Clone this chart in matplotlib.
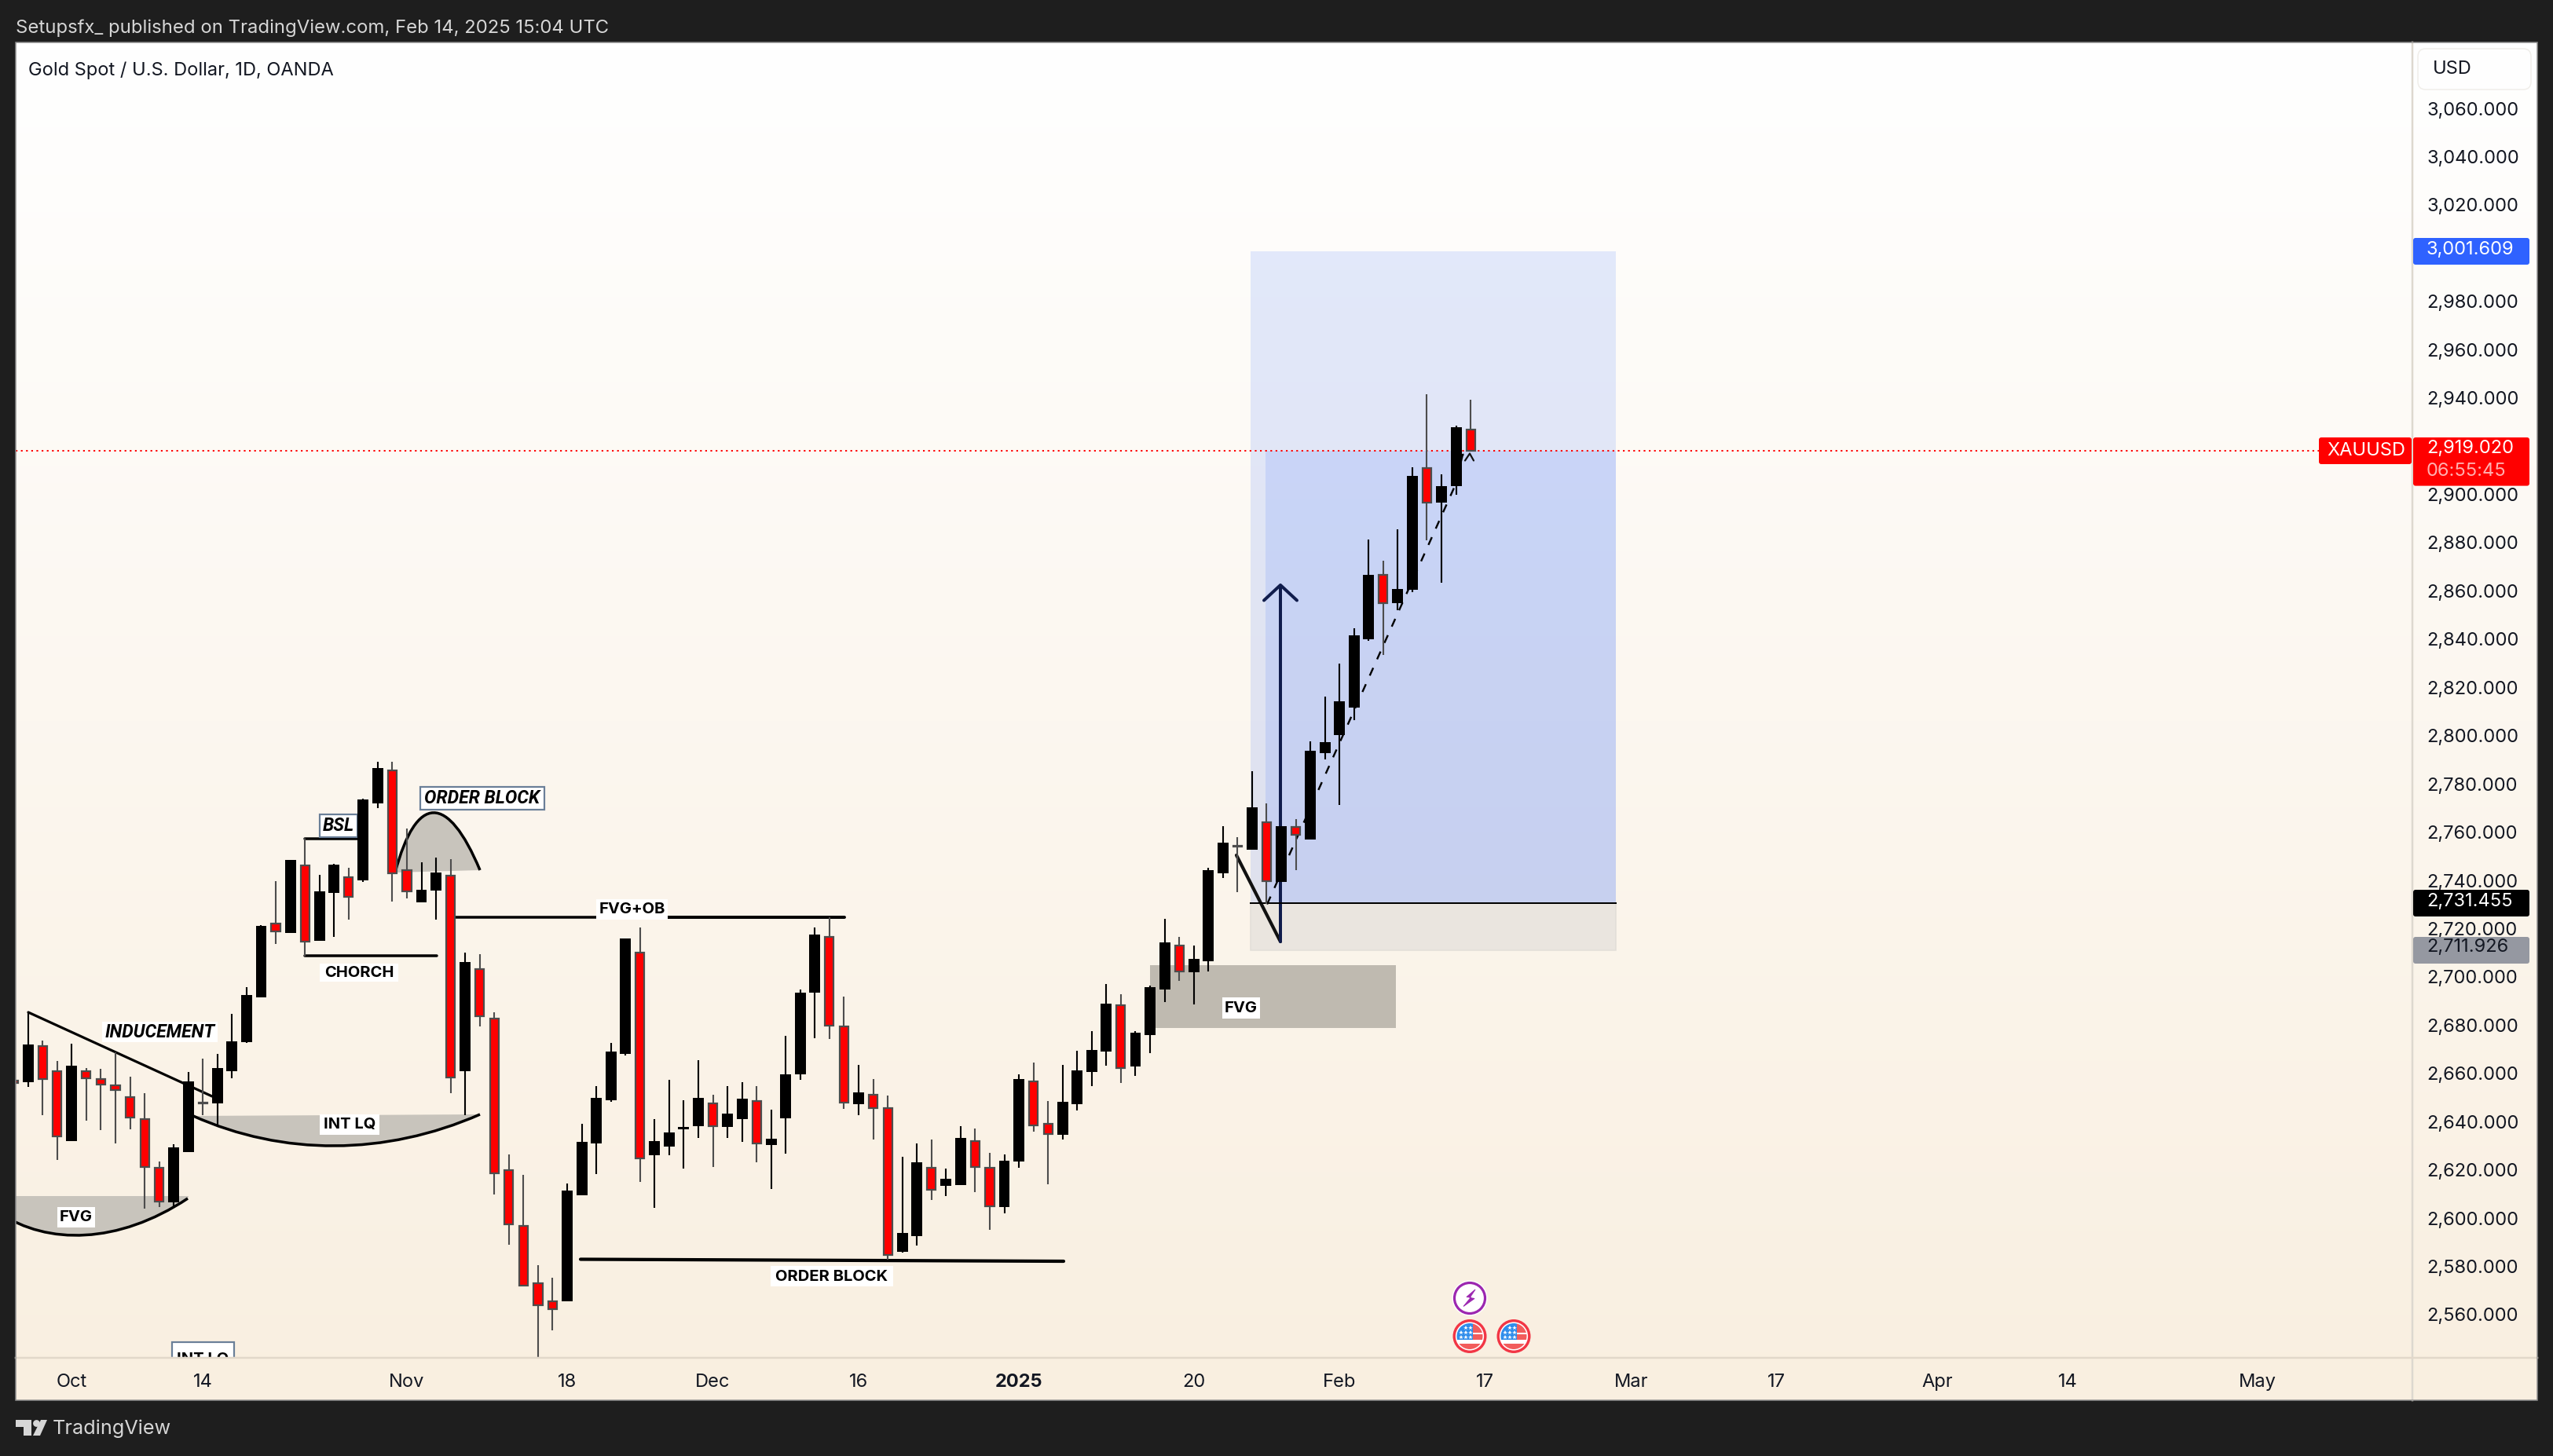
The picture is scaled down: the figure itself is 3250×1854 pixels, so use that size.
import numpy as np
import matplotlib
matplotlib.use("Agg")
import matplotlib.pyplot as plt
from matplotlib.patches import Rectangle, PathPatch, Circle, Polygon, FancyBboxPatch
from matplotlib.path import Path
from matplotlib.transforms import Affine2D, ScaledTranslation

W, H = 3250, 1854

opens = [2657.0,2656.7,2671.2,2660.8,2632.3,2660.8,2657.8,2654.9,2650.3,2641.0,
         2620.9,2606.8,2627.6,2648.0,2648.0,2661.1,2673.3,2692.0,2722.0,2718.4,
         2746.3,2715.4,2735.0,2741.2,2740.5,2772.4,2785.5,2744.2,2731.1,2736.1,
         2742.1,2661.1,2703.1,2682.6,2620.0,2596.9,2572.9,2565.5,2566.0,2609.8,
         2631.3,2649.1,2668.3,2710.1,2626.5,2630.1,2637.0,2638.3,2647.7,2638.0,
         2641.3,2648.4,2630.7,2641.8,2660.1,2693.9,2716.6,2679.5,2647.7,2651.2,
         2645.7,2586.4,2592.9,2620.8,2613.7,2614.1,2632.0,2621.0,2604.8,2623.9,
         2656.7,2639.0,2634.9,2647.6,2660.9,2669.4,2688.4,2663.3,2676.1,2695.2,
         2713.1,2702.1,2706.7,2743.3,2754.5,2752.9,2764.1,2739.8,2762.2,2757.4,
         2793.1,2800.5,2812.1,2840.3,2866.7,2855.1,2860.9,2911.0,2897.0,2903.9,
         2927.0]
highs = [2660.2,2685.3,2673.5,2665.2,2672.2,2662.3,2662.0,2668.7,2658.5,2651.9,
         2623.5,2630.6,2660.6,2666.2,2668.2,2684.6,2695.9,2721.6,2739.6,2748.1,
         2757.3,2742.3,2746.8,2745.3,2773.8,2789.2,2789.2,2761.5,2747.6,2749.3,
         2748.8,2710.0,2709.4,2685.3,2626.5,2617.9,2580.5,2575.2,2614.3,2639.0,
         2654.6,2672.6,2715.6,2720.5,2641.0,2657.3,2648.9,2665.4,2651.1,2654.7,
         2656.3,2654.7,2645.0,2675.5,2694.8,2720.5,2724.6,2691.7,2663.6,2657.7,
         2650.8,2625.3,2631.0,2632.6,2620.5,2638.1,2637.2,2627.1,2626.5,2659.6,
         2664.4,2648.6,2663.6,2669.4,2677.5,2697.0,2692.8,2677.5,2696.3,2724.0,
         2716.6,2713.0,2745.1,2762.4,2758.0,2785.2,2771.9,2762.2,2765.4,2797.5,
         2816.2,2829.9,2844.4,2881.2,2872.5,2885.6,2911.2,2941.6,2908.4,2928.5,
         2939.2]
lows = [2653.2,2654.4,2642.6,2624.1,2632.3,2640.5,2636.4,2631.1,2636.9,2604.1,
        2604.5,2604.6,2627.6,2642.6,2638.2,2658.1,2672.6,2691.6,2713.5,2718.4,
        2708.7,2715.4,2716.5,2723.7,2739.3,2770.1,2731.1,2732.6,2731.1,2723.7,
        2651.8,2642.6,2679.6,2609.9,2589.1,2572.2,2542.5,2553.5,2566.0,2609.8,
        2618.2,2648.2,2667.5,2614.9,2604.4,2626.2,2620.4,2633.3,2621.3,2633.3,
        2631.7,2623.0,2612.2,2626.8,2657.2,2674.7,2674.3,2645.4,2642.8,2632.5,
        2582.9,2585.8,2588.7,2607.6,2609.0,2614.1,2610.9,2595.2,2602.1,2621.0,
        2635.9,2613.9,2632.5,2644.7,2654.8,2663.1,2656.1,2659.0,2668.5,2689.4,
        2698.4,2688.7,2702.1,2741.0,2735.2,2752.9,2730.1,2739.8,2744.1,2757.4,
        2790.3,2771.4,2806.5,2839.2,2833.6,2851.9,2859.4,2880.9,2863.5,2899.8,
        2918.21]
closes = [2656.0,2671.7,2657.6,2633.8,2662.9,2657.9,2655.3,2653.0,2641.7,2621.2,
          2606.8,2629.0,2656.3,2647.7,2662.0,2672.9,2692.2,2720.9,2719.0,2748.1,
          2714.7,2735.2,2746.1,2733.1,2773.3,2786.4,2743.0,2735.4,2735.7,2743.0,
          2658.3,2705.9,2683.7,2618.6,2597.4,2572.2,2563.9,2562.3,2611.2,2631.3,
          2649.5,2668.7,2715.6,2624.8,2631.7,2635.1,2637.4,2649.5,2638.1,2642.9,
          2649.2,2630.9,2632.6,2659.2,2693.1,2717.2,2679.7,2647.9,2651.8,2645.5,
          2584.6,2593.5,2622.9,2611.7,2616.0,2632.9,2621.1,2604.8,2623.4,2657.3,
          2638.6,2634.9,2647.9,2660.9,2669.4,2688.6,2662.1,2676.5,2695.4,2714.0,
          2702.1,2707.2,2743.9,2755.3,2753.9,2769.9,2739.6,2762.2,2759.0,2793.4,
          2797.0,2813.8,2841.4,2866.3,2854.9,2860.5,2907.2,2896.6,2903.1,2927.4,
          2918.21]
# candle readings were taken against the tick-label centres, which sit a little above the true level
reading_bias = 0.81

price_ticks = [3060,3040,3020,2980,2960,2940,2900,2880,2860,2840,2820,2800,2780,
               2760,2740,2720,2700,2680,2660,2640,2620,2600,2580,2560]
time_tick_pos = [4,13,27,38,48,58,69,81,91,101,111,121,132,141,154]
time_tick_labels = ["Oct","14","Nov","18","Dec","16","2025","20","Feb","17","Mar","17","Apr","14","May"]

target_price = 3001.609
entry_price = 2731.455
stop_price = 2711.926
last_price = 2919.02
position_start, position_fill_start, position_end = 84.9, 85.92, 109.97

FONT = "Inter"
plt.rcParams["font.family"] = [FONT, "DejaVu Sans"]
INK = "#131722"

fig = plt.figure(figsize=(W/100, H/100), dpi=100, facecolor="#1E1E1E")

def rect_axes(x0, y0, x1, y1, **kw):
    return fig.add_axes([x0/W, 1-y1/H, (x1-x0)/W, (y1-y0)/H], **kw)

# page background
bg = rect_axes(20, 54, 3230, 1783, zorder=0)
c0, c1 = np.array([255,255,255.]), np.array([249,239,224.])
grad = np.linspace(0, 1, 256)[:, None, None]*(c1-c0)+c0
bg.imshow(grad/255., aspect="auto", extent=[0,1,0,1])
bg.axis("off")

# main price pane
ax = rect_axes(20, 54, 3071, 1728.5, zorder=1)
ax.patch.set_alpha(0)
XLIM = (0.154, 164.63)
YLIM = (3060-(1728.5-140.5)/3.072, 3060+(140.5-54)/3.072)
ax.set_xlim(*XLIM)
ax.set_ylim(*YLIM)
for s in ax.spines.values():
    s.set_visible(False)

ax.yaxis.tick_right()
ax.set_yticks(price_ticks)
ax.set_yticklabels([f"{p:,.3f}" for p in price_ticks], fontsize=17, color=INK)
ax.tick_params(axis="y", length=0, pad=13)
lift = ScaledTranslation(0, 2.5/100, fig.dpi_scale_trans)
for tick in ax.yaxis.get_major_ticks():
    tick.label2.set_transform(tick.label2.get_transform() + lift)
ax.set_xticks(time_tick_pos)
ax.set_xticklabels(time_tick_labels, fontsize=17, color=INK)
ax.tick_params(axis="x", length=0, pad=15)
for t in ax.get_xticklabels():
    if t.get_text() == "2025":
        t.set_fontweight("bold")

# pixel space helper for hand-placed drawings on the pane
pxT = Affine2D().scale(1/W, -1/H).translate(0, 1) + fig.transFigure
LW = 72/100  # points per pixel

# long position tool
ax.add_patch(Rectangle((position_start, entry_price), position_end-position_start, target_price-entry_price,
                       fc="#2962FF", alpha=.13, ec="none", zorder=1))
ax.add_patch(Rectangle((position_fill_start, entry_price), position_end-position_fill_start, last_price-entry_price,
                       fc="#2962FF", alpha=.13, ec="none", zorder=1))
ax.add_patch(Rectangle((position_start, stop_price), position_end-position_start, entry_price-stop_price,
                       fc="#EAE5DF", ec="#E2DED8", lw=1.5*LW, zorder=1))
ax.plot([position_start, position_end], [entry_price, entry_price], color="black", lw=2*LW, zorder=3)

GREY = "#C8C4BC"
def bezier(p0, c1_, c2_, p3):
    verts = [p0, c1_, c2_, p3]
    codes = [Path.MOVETO, Path.CURVE4, Path.CURVE4, Path.CURVE4]
    return Path(verts, codes)

def blob(p0, c1_, c2_, p3, lw=3.5):
    path = bezier(p0, c1_, c2_, p3)
    ax.add_patch(PathPatch(path, fc=GREY, ec="none", transform=pxT, zorder=2))
    ax.add_patch(PathPatch(path, fc="none", ec="black", lw=lw*LW, transform=pxT, zorder=2.2))

# dome (order block) & bowls
blob((503,1111),(530,1010),(570,1010),(611,1108))
blob((246,1421),(360,1472),(490,1472),(611,1419))
ax.add_patch(PathPatch(Path([(0,1523),(240,1523),(239,1526),(150,1585),(60,1585),(0,1545),(0,1523)],
                            [Path.MOVETO,Path.LINETO,Path.LINETO,Path.CURVE4,Path.CURVE4,Path.CURVE4,Path.CLOSEPOLY]),
                       fc=GREY, ec="none", transform=pxT, zorder=2))
ax.add_patch(PathPatch(bezier((0,1545),(60,1585),(150,1585),(239,1526)), fc="none", ec="black", lw=3.5*LW, transform=pxT, zorder=2.2))
ax.add_patch(Rectangle((1464,1229), 313, 80, fc="#BFBAB0", ec="none", transform=pxT, zorder=2))

def seg(xs, ys, lw=3.5, color="black", **kw):
    ax.plot(xs, ys, color=color, lw=lw*LW, transform=pxT, zorder=2.3, solid_capstyle="round", **kw)

seg([36,270],[1289,1396], lw=3.2)          # inducement
seg([388,456],[1068,1068], lw=3.5)         # BSL
seg([388,556],[1217.5,1217.5], lw=3.5)     # CHoCH
seg([580,760],[1168,1168], lw=3.5)         # FVG+OB left
seg([850,1075],[1168,1168], lw=4)          # FVG+OB right
seg([739,1354],[1603.5,1606], lw=4.2)      # order block
seg([388,388],[1068,1217], lw=2, color="#444444")
# trade path
seg([1574,1630],[1089,1199], lw=4.2, color="#111111")
seg([1630,1630],[1199,746], lw=4, color="#101C4C")
seg([1609,1630,1651],[764.5,745,764.5], lw=4, color="#101C4C")
ax.plot([1613,1852,1862,1871],[1151.5,619,579,577.5], color="black", lw=2.4*LW, transform=pxT, zorder=2.3,
        dashes=(4.5,5))
seg([1865,1871,1876],[586.5,577.5,586.5], lw=2.2, color="#111111")

def label(x0, y0, x1, y1, txt, italic=False, border=False, size=14.5, weight="bold"):
    ax.add_patch(Rectangle((x0,y0), x1-x0, y1-y0, fc="white",
                           ec="#6A7F98" if border else "none", lw=2.2*LW, transform=pxT, zorder=2.6))
    ax.text((x0+x1)/2, (y0+y1)/2+.5, txt, transform=pxT, ha="center", va="center", fontsize=size, fontweight=weight,
            fontstyle="italic" if italic else "normal", family=["Roboto","DejaVu Sans"] if italic else [FONT,"DejaVu Sans"],
            color="black", zorder=2.7, clip_on=True)

label(130,1301,277,1327,"INDUCEMENT",italic=True,size=16.6)
label(407,1037,455,1066,"BSL",italic=True,border=True,size=16.6)
label(535,1002,693,1031,"ORDER BLOCK",italic=True,border=True,size=16.6)
label(407,1227,507,1250,"CHORCH")
label(407,1419,483,1445,"INT LQ")
label(73,1537,121,1563,"FVG")
label(219,1709,298,1752,"INT LQ",border=True)
label(759,1145,850,1171,"FVG+OB")
label(981,1612.5,1137,1638,"ORDER BLOCK")
label(1556,1270,1604,1297,"FVG")

# current price line
ax.axhline(last_price, color="#FF0000", lw=2*LW, dashes=(1.1,2.2), zorder=2.4)

# candles
opens_a, highs_a, lows_a, closes_a = [np.array(v)+reading_bias for v in (opens, highs, lows, closes)]
idx = np.arange(len(opens_a))
up = closes_a >= opens_a
ax.vlines(idx[up], lows_a[up], highs_a[up], color="black", lw=2.1*LW, zorder=4)
ax.vlines(idx[~up], lows_a[~up], highs_a[~up], color="#4D4D4D", lw=2.1*LW, zorder=4)
ax.bar(idx[up], (closes_a-opens_a)[up], bottom=opens_a[up], width=.64, color="black", edgecolor="black",
       linewidth=2*LW, zorder=5)
ax.bar(idx[~up], (closes_a-opens_a)[~up], bottom=opens_a[~up], width=.60, color="#FF0000", edgecolor="#4D4D4D",
       linewidth=2.2*LW, zorder=5)

ax.set_xlim(*XLIM)
ax.set_ylim(*YLIM)

# overlay chrome
ov = fig.add_axes([0,0,1,1], zorder=10)
ov.patch.set_alpha(0)
ov.set_xlim(0, W); ov.set_ylim(H, 0)
ov.axis("off")

ov.plot([3071,3071],[54,1783], color="#DDD8CF", lw=2.5*LW, zorder=1)
ov.plot([20,3230],[1728.5,1728.5], color="#E2D8CA", lw=2.5*LW, zorder=1)
ov.add_patch(Rectangle((20,54),3210,1729, fc="none", ec="#8C8C8C", lw=1.5*LW, zorder=1))

def tag(x0, y0, x1, y1, color, pad=3):
    ov.add_patch(FancyBboxPatch((x0+pad,y0+pad), x1-x0-2*pad, y1-y0-2*pad,
                                boxstyle=f"round,pad={pad},rounding_size={pad}", fc=color, ec="none", zorder=3))

tag(3072,303,3220,337,"#2F62FF")
ov.text(3089,318,"3,001.609",color="white",fontsize=17,va="center",zorder=4)
tag(2952,557,3070,591,"#FF0000")
ov.text(2962,574,"XAUUSD",color="white",fontsize=17,va="center",zorder=4)
tag(3072,557,3220,618.6,"#FF0000")
ov.text(3089,571,"2,919.020",color="white",fontsize=17,va="center",zorder=4)
ov.text(3089,599.5,"06:55:45",color="#FFB0B0",fontsize=17,va="center",zorder=4)
tag(3072,1133,3220,1167,"#000000")
ov.text(3089,1147.5,"2,731.455",color="white",fontsize=17,va="center",zorder=4)
tag(3072,1193,3220,1227,"#9598A1")
ov.text(3089,1206.5,"2,711.926",color=INK,fontsize=17,va="center",zorder=4)

ov.add_patch(FancyBboxPatch((3086,70),128,36,boxstyle="round,pad=8,rounding_size=10",fc="none",ec="#F0EEEA",lw=1.5*LW,zorder=3))
ov.text(3097,87.5,"USD",color=INK,fontsize=17,va="center",zorder=4)

ov.text(20,36,"Setupsfx_ published on TradingView.com, Feb 14, 2025 15:04 UTC",color="#D6D6D6",fontsize=17.2,va="center")
ov.text(36,90,"Gold Spot / U.S. Dollar, 1D, OANDA",color=INK,fontsize=17,va="center")
ov.text(67,1819,"TradingView",color="#D6D6D6",fontsize=18.2,va="center")
ov.add_patch(Polygon([(20,1808),(40,1808),(40,1828),(30,1828),(30,1817),(20,1817)],fc="#D6D6D6",ec="none"))
ov.add_patch(Circle((46.5,1812.5),4.4,fc="#D6D6D6",ec="none"))
ov.add_patch(Polygon([(52,1808),(60,1808),(51,1828),(42,1828)],fc="#D6D6D6",ec="none"))

# event markers
ov.add_patch(Circle((1871,1653),22.5,fc="white",ec="none",zorder=3))
ov.add_patch(Circle((1871,1653),19.5,fc="white",ec="#9C27B0",lw=3.2*LW,zorder=3))
ov.add_patch(Polygon([(1878,1642),(1867,1651.5),(1872.5,1652),(1863,1663.5),(1877,1653.5),(1871,1652.5)],
                     fc="#9C27B0",ec="#9C27B0",lw=1*LW,zorder=4))

for cx in (1871, 1927):
    cy = 1701.5
    ov.add_patch(Circle((cx,cy),19.8,fc="white",ec="#F23645",lw=3.4*LW,zorder=3))
    clip = Circle((cx,cy),16.5,transform=ov.transData)
    parts = [Rectangle((cx-17,cy-17),34,34,fc="white",ec="none",zorder=4),
             Rectangle((cx+4,cy-17),14,12.8,fc="#F25C5C",ec="none",zorder=4),
             Rectangle((cx+4,cy-3),14,7,fc="#F25C5C",ec="none",zorder=4),
             Rectangle((cx-17,cy+9),35,9,fc="#F25C5C",ec="none",zorder=4),
             Rectangle((cx-17,cy-17),21,21,fc="#2F8DEB",ec="none",zorder=5)]
    for p in parts:
        ov.add_patch(p)
        p.set_clip_path(clip)
    for sy, sxs in ((-11,(-5,1)),(-5,(-11,-5,1)),(1,(-11,-5,1))):
        ov.plot([cx+s for s in sxs],[cy+sy]*len(sxs),ls="none",marker="*",ms=4.2,mfc="white",mec="white",mew=0,zorder=6)

fig.savefig("out.png", dpi=100, facecolor=fig.get_facecolor())
